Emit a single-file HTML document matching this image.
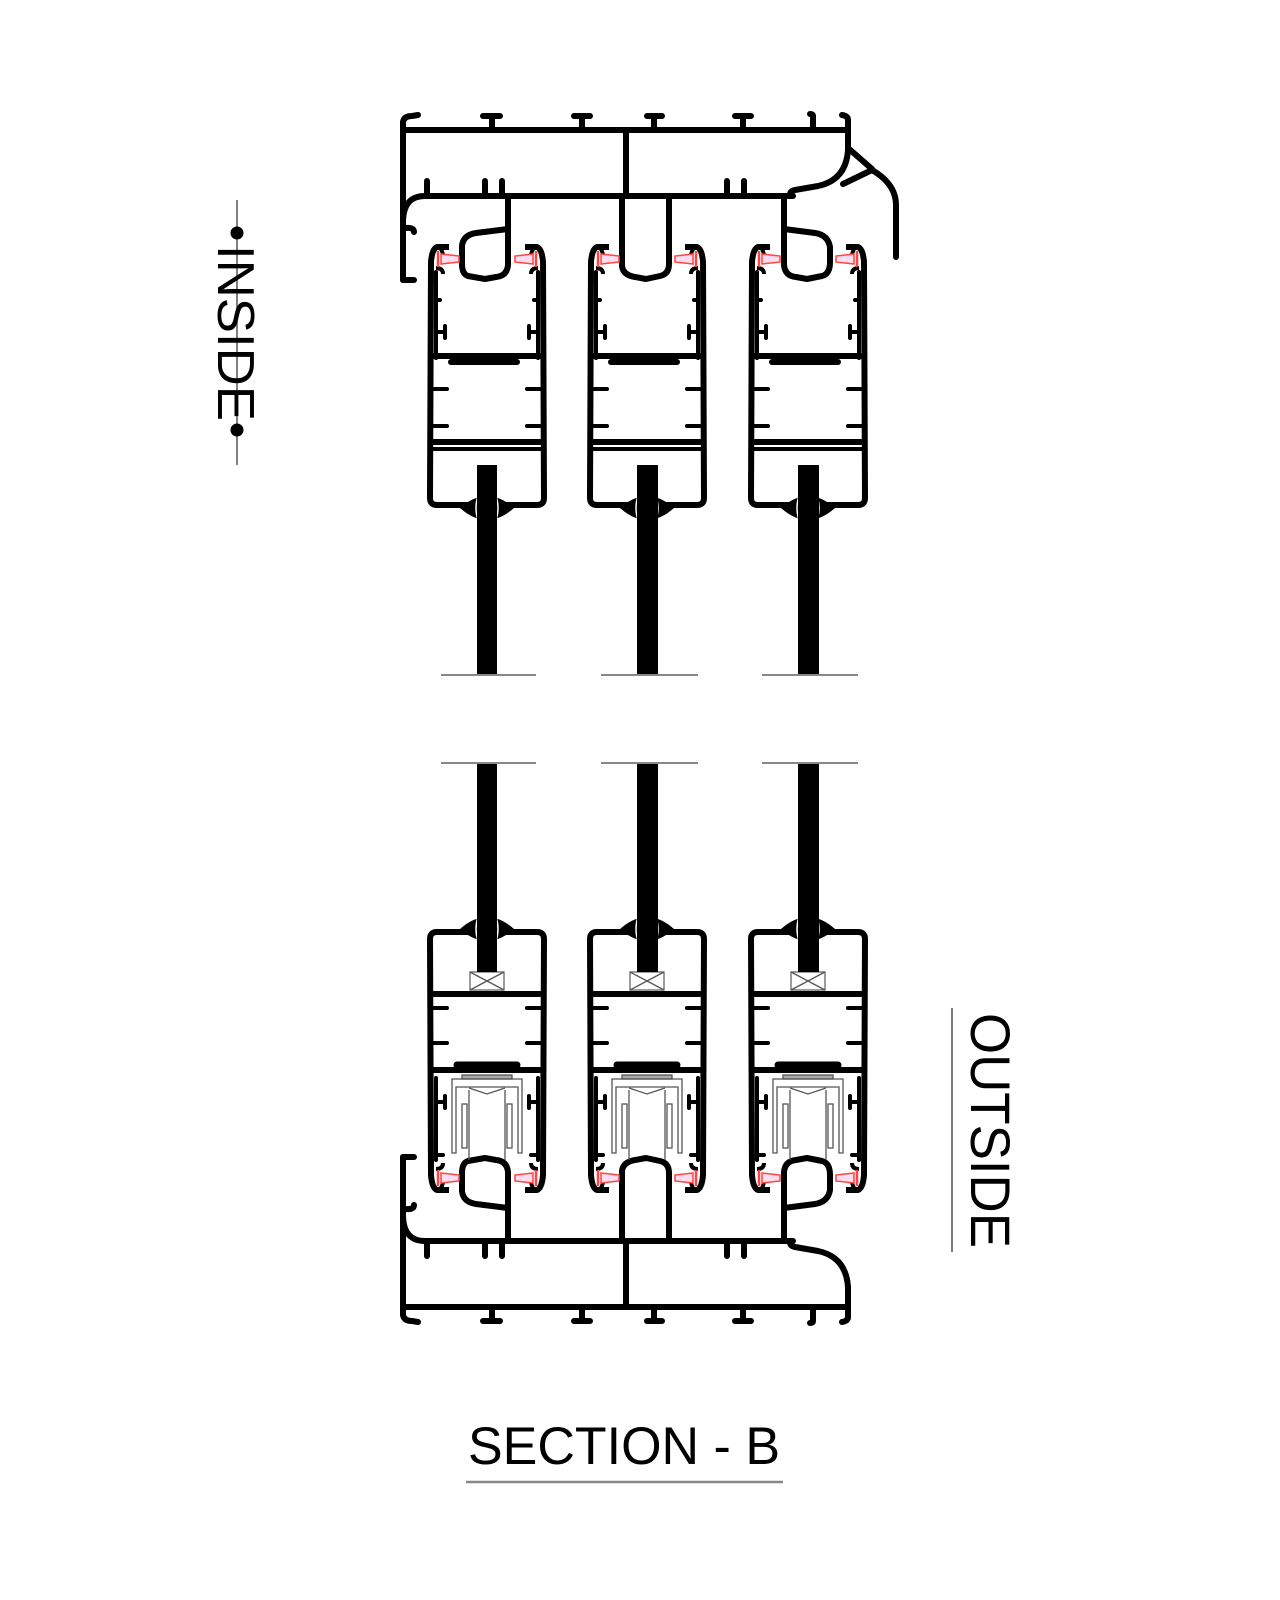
<!DOCTYPE html>
<html><head><meta charset="utf-8"><style>
html,body{margin:0;padding:0;background:#fff}
svg{display:block}
</style></head><body>
<svg width="1280" height="1600" viewBox="0 0 1280 1600" xmlns="http://www.w3.org/2000/svg">
<defs>
<g id="frame" fill="none" stroke="#000" stroke-width="6" stroke-linecap="round" stroke-linejoin="round">
  <path d="M403,130 H848"/>
  <path d="M403,280 V122 Q404,116 412,116 L418,115"/>
  <path d="M403,280 H414"/>
  <path d="M405,228 Q414,227 414,232"/>
  <path d="M492,130 V116 M483,116 H500"/>
  <path d="M582,130 V116 M574,116 H590"/>
  <path d="M654,130 V116 M647,116 H662"/>
  <path d="M743,130 V116 M735,116 H751"/>
  <path d="M813,130 V116 Q813,114 810,114"/>
  <path d="M848,130 V120 Q848,116 842,115"/>
  <path d="M626,130 V196"/>
  <path d="M403,220 Q404,196 425,196 H793"/>
  <path d="M427,196 V181 M485,196 V181 M502,196 V181 M727,196 V181 M744,196 V181"/>
  <path d="M848,128 V150 Q846,180 818,186 L795,190 Q790,191 790,195"/>
  <path d="M508,196 V265 Q507,276 496,277 L485,279 L468,276 Q462,274 462,264 V246 Q463,235 476,233 L508,229"/>
  <path d="M622,196 V266 Q623,275 635,277 L646,279 L660,276 Q669,274 669,264 V196"/>
  <path d="M784,196 V265 Q785,276 796,277 L807,279 L822,276 Q830,274 830,262 V247 Q828,235 815,233 L784,229"/>
</g>
<g id="shell">
  <path d="M-38,247 L-50,247 Q-55,249 -56,262 L-57,498 Q-57,505 -50,505 L50,505 Q57,505 57,498 L56,262 Q55,249 50,247 L38,247" fill="none" stroke="#000" stroke-width="6" stroke-linejoin="round"/>
  <path d="M-46,249 Q-44,253 -44,256 M46,249 Q44,253 44,256 M-51,268 Q-44,268 -44,274 M51,268 Q44,268 44,274" fill="none" stroke="#000" stroke-width="4"/>
  <g stroke="#f44" stroke-width="1.5" fill="#fde">
    <path d="M-46,254 L-28,256 V262 L-46,264 Z"/>
    <path d="M46,254 L28,256 V262 L46,264 Z"/>
    <path d="M-49,251 V267 M49,251 V267" stroke-width="2.5"/>
  </g>
  <path d="M-27,508 Q0,484 27,508 Q0,532 -27,508 Z" fill="#000"/>
  <path d="M-9,496 Q-13,508 -9,520 M9,496 Q13,508 9,520" stroke="#fff" stroke-width="1.5" fill="none"/>
</g>
<g id="topint" fill="none" stroke="#000" stroke-width="4" stroke-linecap="round">
  <path d="M-51,272 V358 M51,272 V358" stroke-width="4"/>
  <path d="M-51,300 H-47 M51,300 H47 M-51,332 H-42 M-42,326 V338 M51,332 H42 M42,326 V338"/>
  <path d="M-53,356 H53" stroke-width="6"/>
  <path d="M-36,362 H30" stroke-width="6"/>
  <path d="M-53,389 H-40 M53,389 H40 M-53,426 H-40 M53,426 H40"/>
  <path d="M-53,442 H53" stroke-width="6"/>
  <path d="M-56,449 H56" stroke-width="4"/>
</g>
<g id="botint">
  <g fill="none" stroke="#000" stroke-width="4" stroke-linecap="round">
    <path d="M-53,994 H53" stroke-width="6"/>
    <path d="M-53,1008 H-40 M53,1008 H40 M-53,1043 H-40 M53,1043 H40"/>
    <path d="M-53,1070 H53" stroke-width="6"/>
    <path d="M-30,1065 H30" stroke-width="7"/>
    <path d="M-51,1078 V1160 M51,1078 V1160" stroke-width="4"/>
    <path d="M-51,1102 H-42 M-42,1096 V1108 M51,1102 H42 M42,1096 V1108"/>
    <path d="M-51,1155 H-44 M51,1155 H44"/>
  </g>
  <g fill="none" stroke="#555" stroke-width="1.3">
    <rect x="-25" y="1075" width="50" height="4" fill="#aaa"/>
    <path d="M-35,1153 V1079 H35 V1153 H31 V1087 H-31 V1153 Z"/>
    <path d="M-18,1090 V1160 M18,1090 V1160 M-18,1088 L0,1094 L18,1088"/>
    <rect x="-25" y="1104" width="5" height="44"/>
    <rect x="20" y="1104" width="5" height="44"/>
    <rect x="-17" y="972" width="34" height="18" stroke="#666" fill="#fff"/>
    <path d="M-17,972 L17,990 M17,972 L-17,990"/>
  </g>
</g>
</defs>

<use href="#frame"/>
<use href="#frame" transform="translate(0,1437) scale(1,-1)"/>
<path d="M848,148 L872,169 M843,184 L872,170 Q896,184 896,205 V257" fill="none" stroke="#000" stroke-width="6" stroke-linejoin="round" stroke-linecap="round"/>

<g transform="translate(487,0)"><use href="#shell"/><use href="#topint"/></g>
<g transform="translate(647,0)"><use href="#shell"/><use href="#topint"/></g>
<g transform="translate(808,0)"><use href="#shell"/><use href="#topint"/></g>
<g transform="translate(487,1437) scale(1,-1)"><use href="#shell"/></g>
<g transform="translate(647,1437) scale(1,-1)"><use href="#shell"/></g>
<g transform="translate(808,1437) scale(1,-1)"><use href="#shell"/></g>
<g transform="translate(487,0)"><use href="#botint"/></g>
<g transform="translate(647,0)"><use href="#botint"/></g>
<g transform="translate(808,0)"><use href="#botint"/></g>

<g fill="#000">
  <rect x="477" y="465" width="20" height="210"/>
  <rect x="637" y="465" width="21" height="210"/>
  <rect x="798" y="465" width="21" height="210"/>
  <rect x="477" y="763" width="20" height="209"/>
  <rect x="637" y="763" width="21" height="209"/>
  <rect x="798" y="763" width="21" height="209"/>
</g>
<g stroke="#888" stroke-width="2">
  <path d="M441,675 H536 M601,675 H698 M762,675 H858"/>
  <path d="M441,763 H536 M601,763 H698 M762,763 H858"/>
</g>

<g stroke="#555" stroke-width="1.5">
  <path d="M237,200 V465"/>
  <path d="M952,1008 V1252"/>
  <path d="M466,1482 H783" stroke="#888" stroke-width="2.5"/>
</g>
<circle cx="237" cy="233" r="6.5" fill="#000"/>
<circle cx="237" cy="430" r="6.5" fill="#000"/>
<text transform="translate(218,245) rotate(90)" font-family="Liberation Sans, sans-serif" font-size="52" textLength="176" lengthAdjust="spacingAndGlyphs" fill="#000">INSIDE</text>
<text transform="translate(971,1013) rotate(90)" font-family="Liberation Sans, sans-serif" font-size="56" textLength="235" lengthAdjust="spacingAndGlyphs" fill="#000">OUTSIDE</text>
<text x="468" y="1464" font-family="Liberation Sans, sans-serif" font-size="53" textLength="312" lengthAdjust="spacingAndGlyphs" fill="#000">SECTION - B</text>
</svg>
</body></html>
